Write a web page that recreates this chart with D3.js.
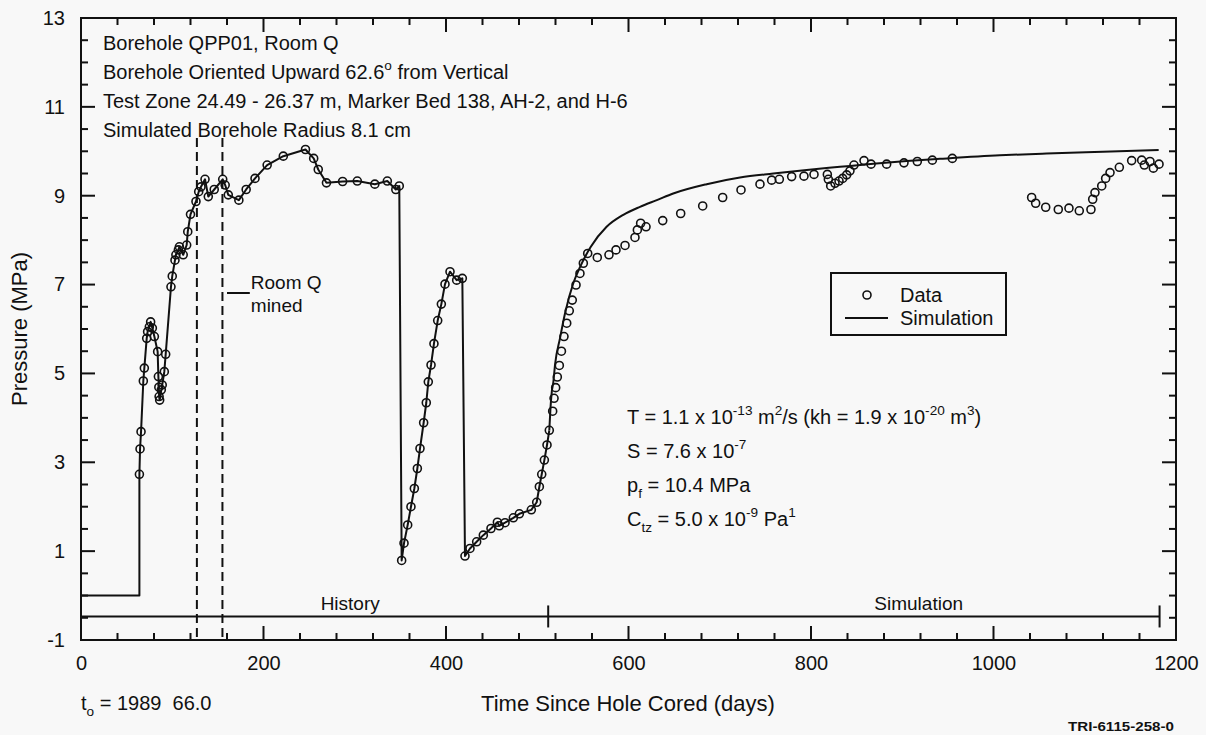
<!DOCTYPE html>
<html>
<head>
<meta charset="utf-8">
<script src="https://cdn.jsdelivr.net/npm/d3@7"></script>
<style>
  body { margin: 0; background: #f8f8f8; }
  svg { display: block; font-family: "Liberation Sans", Arial, sans-serif; }
</style>
</head>
<body>
<svg id="chart" width="1206" height="735"></svg>
<script>
// pressure record, borehole QPP01 (days since hole cored, MPa)
// history period: the line goes through these measured points
const historyDays = [64, 64.7, 65.8, 68.3, 69.4, 72, 73, 74.9, 76.3, 78.2, 80.4, 84, 84.8, 85.3, 85.6, 86.2, 88, 89, 91.3, 92.8,
  98.6, 100, 103, 104, 106.7, 107.8, 112, 115.8, 117, 120, 126, 129, 131.5, 135.9, 139.5, 146, 155.3, 158, 161.4, 173,
  181, 190.7, 204, 221.7, 246, 255, 260, 269, 286.7, 302.8, 322, 335.7, 345, 348.8,
  351.4, 354, 358, 361.6, 365.3, 368.6, 371.5, 375.5, 378.4, 380.6, 383.6, 386.8, 390.9, 394.9, 398.9, 404.4, 411.7, 417.9,
  420.8, 426.3, 433.6, 440.9, 449.3, 456.3, 458.4, 464.7, 473.8, 480.4, 493.5, 499.4, 502.3, 504.9, 507.8, 510.7, 513.2];
const historyPressure = [2.73, 3.30, 3.69, 4.83, 5.12, 5.79, 5.94, 6.05, 6.16, 6.02, 5.83, 5.49, 4.93, 4.69, 4.48, 4.40, 4.63, 4.74, 5.04, 5.43,
  6.95, 7.19, 7.55, 7.67, 7.78, 7.85, 7.67, 7.89, 8.19, 8.58, 8.87, 9.09, 9.20, 9.37, 8.98, 9.14, 9.37, 9.24, 9.02, 8.90,
  9.14, 9.39, 9.69, 9.89, 10.04, 9.84, 9.59, 9.29, 9.32, 9.33, 9.26, 9.33, 9.14, 9.22,
  0.79, 1.18, 1.59, 2.00, 2.41, 2.86, 3.31, 3.89, 4.34, 4.81, 5.19, 5.67, 6.19, 6.56, 7.01, 7.29, 7.10, 7.14,
  0.89, 1.06, 1.21, 1.36, 1.51, 1.65, 1.57, 1.64, 1.75, 1.84, 1.93, 2.10, 2.45, 2.73, 3.05, 3.39, 3.72];

// simulation period: measured points only
const dataDays = [516.9, 518.4, 520.2, 522, 524.2, 526.5, 529.3, 532.3, 535.1, 538.4, 542.5, 546.8, 550.5, 555.3, 565.8, 578.6,
  586.3, 596.2, 607.1, 609.7, 613.3, 619.2, 637.5, 657.2, 681.3, 703.2, 723.3, 744.1, 756.9, 765.3, 778.8, 792.3, 803.3,
  817.9, 819, 821.6, 826.3, 830.7, 834.7, 839.1, 842.7, 847.1, 858.1, 865.8, 882.9, 901.9, 916.5, 933, 954.9,
  1041.8, 1046.2, 1057.2, 1071, 1082.7, 1094, 1106.8, 1108.7, 1111.2, 1118.6, 1122.9, 1127.7, 1137.9, 1151.4,
  1162.4, 1165.3, 1171.5, 1175.2, 1181.4];
const dataPressure = [4.15, 4.44, 4.68, 4.92, 5.18, 5.50, 5.83, 6.13, 6.41, 6.65, 6.99, 7.25, 7.48, 7.70, 7.61, 7.67,
  7.78, 7.88, 8.06, 8.23, 8.38, 8.30, 8.44, 8.60, 8.77, 8.96, 9.13, 9.26, 9.35, 9.37, 9.43, 9.44, 9.48,
  9.48, 9.37, 9.22, 9.28, 9.33, 9.39, 9.47, 9.56, 9.69, 9.79, 9.71, 9.71, 9.74, 9.77, 9.80, 9.84,
  8.96, 8.83, 8.74, 8.69, 8.72, 8.66, 8.69, 8.92, 9.07, 9.22, 9.39, 9.52, 9.64, 9.79,
  9.80, 9.69, 9.77, 9.62, 9.71];

// flat start before the test zone was shut in
const startDays = [0, 64];
const startPressure = [0, 0];

// simulated pressure after history matching
const simDays = [513.2, 514.5, 516, 517.6, 519.5, 525, 530.4, 539.5, 547, 558.7, 576, 594.3, 612.6, 631, 649, 685.7, 722.2, 758.7,
  795.3, 831.8, 868.3, 904.9, 941.4, 1007, 1058, 1120, 1181];
const simPressure = [3.72, 4.22, 4.60, 4.80, 5.20, 5.80, 6.35, 7.03, 7.40, 7.85, 8.30, 8.57, 8.75, 8.90, 9.05, 9.26, 9.41, 9.50,
  9.58, 9.65, 9.72, 9.78, 9.83, 9.91, 9.95, 9.99, 10.03];

const roomQDays = [127, 155];        // Room Q mining, dashed
const roomQTop = 10.3;
const roomQLabelDays = [160, 185];
const roomQLabelPressure = 6.81;
const periodDays = [0, 512, 1182];    // history | simulation
const periodPressure = -0.47;
const periodLabels = [{ text: "History", day: 295 }, { text: "Simulation", day: 918 }];

const xMajor = d3.range(0, 1201, 200);
const xMinor = d3.range(0, 1201, 40).filter(d => d % 200 !== 0);
const yMajor = d3.range(-1, 14, 2);
const yMinor = d3.range(-1, 13.01, 0.5).filter(d => !yMajor.includes(d));

const infoLines = [
  [["Borehole QPP01, Room Q", ""]],
  [["Borehole Oriented Upward 62.6", ""], ["o", "sup"], [" from Vertical", ""]],
  [["Test Zone 24.49 - 26.37 m, Marker Bed 138, AH-2, and H-6", ""]],
  [["Simulated Borehole Radius 8.1 cm", ""]]
];
const paramLines = [
  [["T = 1.1 x 10", ""], ["-13", "sup"], [" m", ""], ["2", "sup"], ["/s (kh = 1.9 x 10", ""], ["-20", "sup"], [" m", ""], ["3", "sup"], [")", ""]],
  [["S = 7.6 x 10", ""], ["-7", "sup"]],
  [["p", ""], ["f", "sub"], [" = 10.4 MPa", ""]],
  [["C", ""], ["tz", "sub"], [" = 5.0 x 10", ""], ["-9", "sup"], [" Pa", ""], ["1", "sup"]]
];

const ink = "#111";
const svg = d3.select("#chart");
const mLeft = 81, mRight = 1176, mTop = 18, mBottom = 640;

const x = d3.scaleLinear().domain([0, 1200]).range([mLeft, mRight]);
const y = d3.scaleLinear().domain([-1, 13]).range([mBottom, mTop]);

// text with super/subscript pieces
function richText(g, segments, px, py, size) {
  const t = g.append("text").attr("x", px).attr("y", py)
    .attr("font-size", size).attr("fill", ink);
  let shift = 0;
  segments.forEach(([str, kind]) => {
    const want = kind === "sup" ? -0.45 * size : kind === "sub" ? 0.3 * size : 0;
    t.append("tspan")
      .attr("dy", want - shift)
      .attr("font-size", kind ? size * 0.68 : size)
      .text(str);
    shift = want;
  });
  return t;
}

function drawAxes() {
  // tick labels only here, the tick marks are drawn in drawTicks
  const labels = g => {
    g.select(".domain").remove();
    g.selectAll("line").remove();
    g.selectAll("text").attr("font-size", 20).attr("fill", ink)
      .attr("font-family", "'Liberation Sans', Arial, sans-serif");
  };
  svg.append("g").attr("transform", `translate(0,${mBottom})`)
    .call(d3.axisBottom(x).tickValues(xMajor).tickSize(0).tickPadding(16).tickFormat(d => String(d)))
    .call(labels);
  svg.append("g").attr("transform", `translate(${mLeft},0)`)
    .call(d3.axisLeft(y).tickValues(yMajor).tickSize(0).tickPadding(16).tickFormat(d => String(d)))
    .call(labels);

  svg.append("rect")
    .attr("x", mLeft).attr("y", mTop)
    .attr("width", mRight - mLeft).attr("height", mBottom - mTop)
    .attr("fill", "none").attr("stroke", ink).attr("stroke-width", 2);

  svg.append("text")
    .attr("transform", `translate(27,${(mTop + mBottom) / 2}) rotate(-90)`)
    .attr("text-anchor", "middle").attr("font-size", 22).attr("fill", ink)
    .text("Pressure (MPa)");
  svg.append("text")
    .attr("x", 628).attr("y", 711)
    .attr("text-anchor", "middle").attr("font-size", 22).attr("fill", ink)
    .text("Time Since Hole Cored (days)");
  richText(svg, [["t", ""], ["o", "sub"], [" = 1989\u00a0 66.0", ""]], 81, 710, 20);
  svg.append("text")
    .attr("x", 1174).attr("y", 731)
    .attr("text-anchor", "end").attr("font-size", 13).attr("font-weight", "bold").attr("fill", ink)
    .attr("textLength", 106).attr("lengthAdjust", "spacingAndGlyphs")
    .text("TRI-6115-258-0");
}

// inward ticks on all four sides of the frame
function drawTicks() {
  const xTicks = xMajor.map(d => ({ v: d, len: 14 })).concat(xMinor.map(d => ({ v: d, len: 7 })));
  const yTicks = yMajor.map(d => ({ v: d, len: 14 })).concat(yMinor.map(d => ({ v: d, len: 7 })));
  const rows = [];
  xTicks.forEach(t => {
    rows.push({ x1: x(t.v), x2: x(t.v), y1: mBottom, y2: mBottom - t.len });
    rows.push({ x1: x(t.v), x2: x(t.v), y1: mTop, y2: mTop + t.len });
  });
  yTicks.forEach(t => {
    rows.push({ x1: mLeft, x2: mLeft + t.len, y1: y(t.v), y2: y(t.v) });
    rows.push({ x1: mRight, x2: mRight - t.len, y1: y(t.v), y2: y(t.v) });
  });
  svg.append("g").selectAll("line")
    .data(rows).enter()
    .append("line")
      .attr("x1", d => d.x1).attr("x2", d => d.x2)
      .attr("y1", d => d.y1).attr("y2", d => d.y2)
      .attr("stroke", ink)
      .attr("stroke-width", 2);
}

function drawMarkers() {
  // Room Q mining window
  svg.append("g").selectAll("line")
    .data(roomQDays).enter()
    .append("line")
      .attr("x1", d => x(d)).attr("x2", d => x(d))
      .attr("y1", y(roomQTop)).attr("y2", y(-1))
      .attr("stroke", ink).attr("stroke-width", 2)
      .attr("stroke-dasharray", "9,5");

  svg.append("line")
    .attr("x1", x(roomQLabelDays[0])).attr("x2", x(roomQLabelDays[1]))
    .attr("y1", y(roomQLabelPressure)).attr("y2", y(roomQLabelPressure))
    .attr("stroke", ink).attr("stroke-width", 2);
  svg.append("text").attr("x", x(roomQLabelDays[1]) + 1).attr("y", y(roomQLabelPressure) - 4)
    .attr("font-size", 19).attr("fill", ink).text("Room Q");
  svg.append("text").attr("x", x(roomQLabelDays[1]) + 1).attr("y", y(roomQLabelPressure) + 19)
    .attr("font-size", 19).attr("fill", ink).text("mined");

  // history / simulation bar
  const yb = y(periodPressure);
  svg.append("line")
    .attr("x1", x(periodDays[0])).attr("x2", x(periodDays[2]))
    .attr("y1", yb).attr("y2", yb)
    .attr("stroke", ink).attr("stroke-width", 2);
  svg.append("g").selectAll("line")
    .data(periodDays.slice(1)).enter()
    .append("line")
      .attr("x1", d => x(d)).attr("x2", d => x(d))
      .attr("y1", yb - 11).attr("y2", yb + 11)
      .attr("stroke", ink).attr("stroke-width", 2);
  svg.append("g").selectAll("text")
    .data(periodLabels).enter()
    .append("text")
      .attr("x", d => x(d.day)).attr("y", yb - 6)
      .attr("text-anchor", "middle").attr("font-size", 19).attr("fill", ink)
      .text(d => d.text);
}

function drawSeries() {
  const histPts = [
    ...startDays.map((d, i) => [d, startPressure[i]]),
    ...historyDays.map((d, i) => [d, historyPressure[i]])
  ];
  const simPts = simDays.map((d, i) => [d, simPressure[i]]);

  svg.append("path")
    .datum(histPts)
    .attr("fill", "none").attr("stroke", ink).attr("stroke-width", 2)
    .attr("stroke-linejoin", "round")
    .attr("d", d3.line().x(d => x(d[0])).y(d => y(d[1])));
  svg.append("path")
    .datum(simPts)
    .attr("fill", "none").attr("stroke", ink).attr("stroke-width", 2)
    .attr("d", d3.line().curve(d3.curveMonotoneX).x(d => x(d[0])).y(d => y(d[1])));

  const circles = [
    ...historyDays.map((d, i) => [d, historyPressure[i]]),
    ...dataDays.map((d, i) => [d, dataPressure[i]])
  ];
  svg.append("g").selectAll("circle")
    .data(circles).enter()
    .append("circle")
      .attr("cx", d => x(d[0])).attr("cy", d => y(d[1]))
      .attr("r", 4)
      .attr("fill", "none").attr("stroke", ink).attr("stroke-width", 1.6);
}

function drawNotes() {
  infoLines.forEach((segs, i) => richText(svg, segs, 103, 50 + i * 29, 20));
  paramLines.forEach((segs, i) => richText(svg, segs, 627, 424 + i * 34, 20));

  // legend
  const lg = svg.append("g");
  lg.append("rect").attr("x", 831).attr("y", 273).attr("width", 175).attr("height", 62)
    .attr("fill", "#f8f8f8").attr("stroke", ink).attr("stroke-width", 2);
  lg.append("circle").attr("cx", 867).attr("cy", 295).attr("r", 4)
    .attr("fill", "none").attr("stroke", ink).attr("stroke-width", 1.6);
  lg.append("line").attr("x1", 845).attr("x2", 888).attr("y1", 318).attr("y2", 318)
    .attr("stroke", ink).attr("stroke-width", 2);
  lg.append("text").attr("x", 900).attr("y", 302).attr("font-size", 20).attr("fill", ink).text("Data");
  lg.append("text").attr("x", 900).attr("y", 325).attr("font-size", 20).attr("fill", ink).text("Simulation");
}

drawAxes();
drawMarkers();
drawSeries();
drawNotes();
drawTicks();
</script>
</body>
</html>
